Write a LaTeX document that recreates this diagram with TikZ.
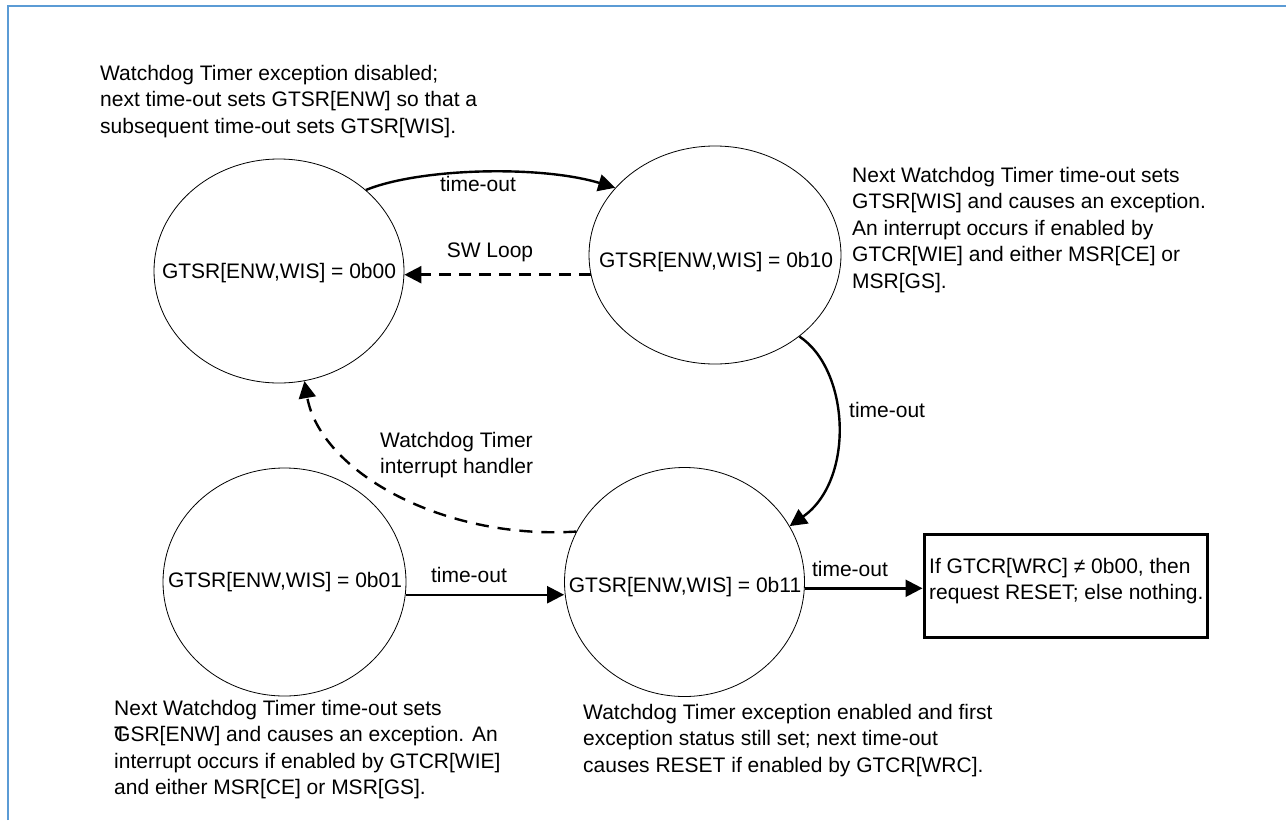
\documentclass[tikz,border=0pt]{standalone}
\usepackage{fontspec}
\setmainfont{Liberation Sans}
\usetikzlibrary{shapes.geometric,arrows.meta}
\definecolor{frameblue}{RGB}{91,155,213}
\begin{document}
\begin{tikzpicture}[x=1pt,y=-1pt,
  state/.style={draw, ellipse, line width=0.8pt, inner sep=0pt},
  lbl/.style={font=\fontsize{21}{26.5}\selectfont, inner sep=0pt},
  note/.style={lbl, align=left, anchor=north west},
  arr/.style={line width=2.4pt, -{Triangle[length=17pt,width=17pt]}},
  darr/.style={arr, dash pattern=on 13pt off 9pt},
  sarr/.style={arr, dash pattern=on 12pt off 8pt},
  resultbox/.style={draw, line width=3pt, inner sep=0pt}]
\useasboundingbox (0,0) rectangle (1286,820);
\fill[white] (0,0) rectangle (1286,820);
% frame
\draw[frameblue, line width=2pt] (8,820) -- (8,6) -- (1286,6);

% states
\node[state, minimum width=250pt, minimum height=224pt] (c00) at (279,271) {};
\node[state, minimum width=252pt, minimum height=218pt] (c10) at (715,255) {};
\node[state, minimum width=243pt, minimum height=228pt] (c01) at (284.5,582) {};
\node[state, minimum width=240pt, minimum height=229pt] (c11) at (684.5,582) {};
\node[lbl] (t00) at (279,273) {GTSR[ENW,WIS] = 0b00};
\node[lbl] (t10) at (716,262) {GTSR[ENW,WIS] = 0b10};
\node[lbl] (t01) at (285,582) {GTSR[ENW,WIS] = 0b01};
\node[lbl] (t11) at (685,587) {GTSR[ENW,WIS] = 0b11};

% result box
\node[resultbox, minimum width=283pt, minimum height=103pt] (box) at (1065.5,585.5) {};
\node[lbl, align=left, anchor=west] (boxtxt) at (929,581) {If GTCR[WRC] ≠ 0b00, then\\request RESET; else nothing.};

% notes
\node[note] (n00) at (100,65) {\fontsize{21}{25.5}\selectfont Watchdog Timer exception disabled;\\next time-out sets GTSR[ENW] so that a\\subsequent time-out sets GTSR[WIS].};
\node[note] (n10) at (852,167) {Next Watchdog Timer time-out sets\\GTSR[WIS] and causes an exception.\\An interrupt occurs if enabled by\\GTCR[WIE] and either MSR[CE] or\\MSR[GS].};
\node[note] (n01) at (114,700) {Next Watchdog Timer time-out sets\\\makebox[0pt][l]{T}GSR[ENW] and causes an exception. An\\interrupt occurs if enabled by GTCR[WIE]\\and either MSR[CE] or MSR[GS].};
\node[note] (n11) at (583,704) {Watchdog Timer exception enabled and first\\exception status still set; next time-out\\causes RESET if enabled by GTCR[WRC].};

% connectors
\draw[arr] (c00.43) .. controls (420,168) and (540,165) .. (c10.146);
\draw[sarr] (c10.189) -- (c10.189 -| c00.east);
\draw[arr] (c10.-44) .. controls (850,370) and (855,480) .. (c11.28);
\draw[darr] (c11.155) .. controls (440,540) and (320,470) .. (c00.283);
\draw[arr] (c01.-6) -- (c01.-6 -| c11.west);
\draw[arr] (c11.-3) -- (c11.-3 -| box.west);

% connector labels
\node[lbl] (l1) at (478,184) {time-out};
\node[lbl] (l2) at (490,252) {SW Loop};
\node[lbl, anchor=west] (l3) at (849,410) {time-out};
\node[note] (l4) at (380,432) {Watchdog Timer\\interrupt handler};
\node[lbl] (l5) at (469,575) {time-out};
\node[lbl] (l6) at (850,569) {time-out};
\end{tikzpicture}
\end{document}
